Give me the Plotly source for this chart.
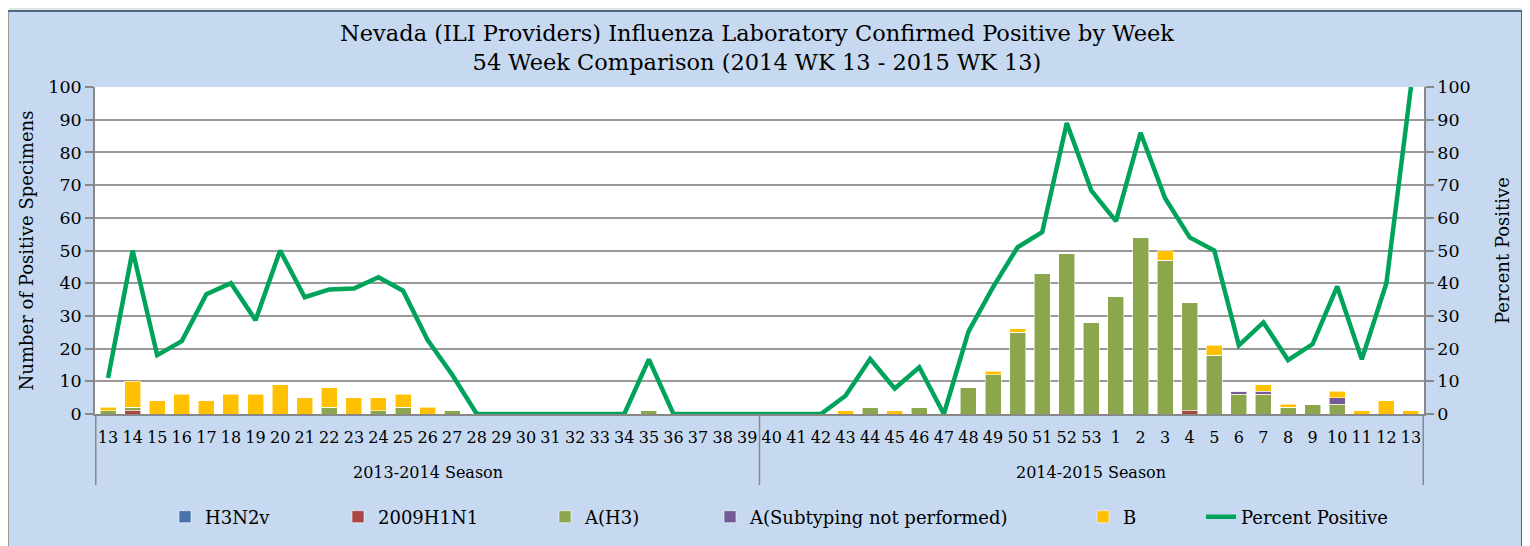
import plotly.graph_objects as go

# ---------------- data ----------------
seasons = ["2013-2014 Season"] * 27 + ["2014-2015 Season"] * 27
season_names = ["2013-2014 Season", "2014-2015 Season"]
weeks = ["13", "14", "15", "16", "17", "18", "19", "20", "21", "22", "23", "24", "25", "26",
         "27", "28", "29", "30", "31", "32", "33", "34", "35", "36", "37", "38", "39",
         "40", "41", "42", "43", "44", "45", "46", "47", "48", "49", "50", "51", "52", "53",
         "1", "2", "3", "4", "5", "6", "7", "8", "9", "10", "11", "12", "13"]

h3n2v = [0] * 54
h1n1_2009 = [0, 1, 0, 0, 0, 0, 0, 0, 0, 0, 0, 0, 0, 0,
             0, 0, 0, 0, 0, 0, 0, 0, 0, 0, 0, 0, 0,
             0, 0, 0, 0, 0, 0, 0, 0, 0, 0, 0, 0, 0, 0,
             0, 0, 0, 1, 0, 0, 0, 0, 0, 0, 0, 0, 0]
a_h3 = [1, 1, 0, 0, 0, 0, 0, 0, 0, 2, 0, 1, 2, 0,
        1, 0, 0, 0, 0, 0, 0, 0, 1, 0, 0, 0, 0,
        0, 0, 0, 0, 2, 0, 2, 0, 8, 12, 25, 43, 49, 28,
        36, 54, 47, 33, 18, 6, 6, 2, 3, 3, 0, 0, 0]
a_unsubtyped = [0] * 27 + [0, 0, 0, 0, 0, 0, 0, 0, 0, 0, 0, 0, 0, 0,
                           0, 0, 0, 0, 0, 1, 1, 0, 0, 2, 0, 0, 0]
b = [1, 8, 4, 6, 4, 6, 6, 9, 5, 6, 5, 4, 4, 2,
     0, 0, 0, 0, 0, 0, 0, 0, 0, 0, 0, 0, 0,
     0, 0, 0, 1, 0, 1, 0, 0, 0, 1, 1, 0, 0, 0,
     0, 0, 3, 0, 3, 0, 2, 1, 0, 2, 1, 4, 1]
percent_positive = [11, 50, 18, 22.3, 36.6, 40, 28.7, 50, 35.7, 38.1, 38.4, 41.8, 37.7, 22.6,
                    12, 0, 0, 0, 0, 0, 0, 0, 16.7, 0, 0, 0, 0,
                    0, 0, 0, 5.6, 16.8, 7.8, 14.3, 0, 25.2, 38.8, 51, 55.6, 89, 68.3,
                    59, 86, 66, 54, 50, 21, 28, 16.5, 21.4, 39, 16.7, 40, 100]

# ---------------- figure ----------------
FONT = "DejaVu Serif"
keys = [f"{s}|{w}" for s, w in zip(seasons, weeks)]   # unique category keys

fig = go.Figure()
bar_series = [
    ("H3N2v", h3n2v, "#4673A8", "legend"),
    ("2009H1N1", h1n1_2009, "#AA4644", "legend2"),
    ("A(H3)", a_h3, "#8CA64E", "legend3"),
    ("A(Subtyping not performed)", a_unsubtyped, "#745A95", "legend4"),
    ("B", b, "#FFC000", "legend5"),
]
for name, vals, col, lg in bar_series:
    fig.add_trace(go.Bar(x=keys, y=vals, name=name, marker_color=col,
                         marker_line=dict(color="rgba(255,255,255,0.7)", width=0.8),
                         legend=lg))
fig.add_trace(go.Scatter(x=keys, y=percent_positive, name="Percent Positive", mode="lines",
                         line=dict(color="#00A35A", width=4.5), yaxis="y2", legend="legend6"))

# page is offset by an 8px body margin; target plot box on the page: x 95..1424, y 87..414
OFF = 8
W, H = 1530 - OFF, 546 - OFF
PL, PR, PT, PB = 95, 1424, 87, 414
pw, ph = PR - PL, PB - PT

def px(xp):
    return (xp - PL) / pw

def py(yp):
    return (PB - yp) / ph

legend_text_x = [204, 377, 584, 749, 1122, 1240]
legend_common = dict(orientation="h", yanchor="middle", xanchor="left",
                     bgcolor="rgba(0,0,0,0)", font=dict(family=FONT, size=18, color="#000"))
legends = {}
for i, tx in enumerate(legend_text_x):
    key = "legend" if i == 0 else f"legend{i + 1}"
    legends[key] = dict(x=px(tx - 39), y=py(517), **legend_common)

fig.update_layout(
    width=W, height=H,
    margin=dict(l=PL - OFF, r=W - (PR - OFF), t=PT - OFF, b=H - (PB - OFF), autoexpand=False),
    barmode="stack", bargap=0.35,
    paper_bgcolor="#C6D9F1", plot_bgcolor="white",
    font=dict(family=FONT, color="#000"),
    title=dict(text="Nevada (ILI Providers) Influenza Laboratory Confirmed Positive by Week<br>"
                    "54 Week Comparison (2014 WK 13 - 2015 WK 13)",
               x=((757 - OFF) / W), xanchor="center", y=1 - 33 / H, yanchor="middle",
               font=dict(family=FONT, size=22.5, color="#000")),
    xaxis=dict(type="category", showgrid=False, tickangle=0,
               tickvals=keys, ticktext=weeks,
               tickfont=dict(family=FONT, size=16, color="#000"),
               showline=True, linecolor="#888888", linewidth=1.5,
               ticks="outside", ticklen=8, tickcolor="rgba(0,0,0,0)"),
    yaxis=dict(range=[0, 100], dtick=10, showgrid=True, gridcolor="#999999", gridwidth=1.5,
               showline=True, linecolor="#888888", linewidth=1.5,
               ticks="outside", ticklen=8, tickcolor="#888888", tickwidth=1.5,
               tickfont=dict(family=FONT, size=17.5, color="#000"),
               title=dict(text="Number of Positive Specimens",
                          font=dict(family=FONT, size=18, color="#000"), standoff=10),
               zeroline=False),
    yaxis2=dict(range=[0, 100], dtick=10, overlaying="y", side="right", showgrid=False,
                showline=True, linecolor="#888888", linewidth=1.5,
                ticks="outside", ticklen=8, tickcolor="#888888", tickwidth=1.5,
                tickfont=dict(family=FONT, size=17.5, color="#000"),
                title=dict(text="Percent Positive",
                           font=dict(family=FONT, size=18, color="#000"), standoff=27),
                zeroline=False),
    showlegend=True,
    **legends,
)

# season group labels and group dividers under the week labels
n1 = seasons.count(season_names[0])
n2 = seasons.count(season_names[1])
for name, centre in [(season_names[0], (n1 - 1) / 2), (season_names[1], n1 + (n2 - 1) / 2)]:
    fig.add_annotation(text=name, xref="x", x=centre, yref="paper", y=py(473),
                       showarrow=False, yanchor="middle",
                       font=dict(family=FONT, size=16, color="#000"))
for edge in [-0.5, n1 - 0.5, n1 + n2 - 0.5]:
    fig.add_shape(type="line", xref="x", x0=edge, x1=edge, yref="paper", y0=0, y1=py(485),
                  line=dict(color="#888888", width=1.5))

# white page margin, shadow and dark border around the chart area
def strip(x0, x1, y0, y1, col):
    fig.add_shape(type="rect", xref="paper", yref="paper",
                  x0=px(x0), x1=px(x1), y0=py(y1), y1=py(y0),
                  fillcolor=col, line=dict(width=0), layer="below")

strip(0, 1540, 0, 11, "white")           # top
strip(0, 7, 0, 560, "white")             # left
strip(1522, 1540, 0, 560, "white")       # right
strip(9, 1524, 7, 11, "#E4E4E4")         # faint top shadow
strip(7.5, 9, 12, 560, "#9A9A9A")        # left shadow
fig.add_shape(type="rect", xref="paper", yref="paper",
              x0=px(7), x1=px(1522), y0=py(560), y1=py(11),
              fillcolor="rgba(0,0,0,0)", line=dict(color="#243F60", width=1.5), layer="below")

fig.write_html("out.html")
